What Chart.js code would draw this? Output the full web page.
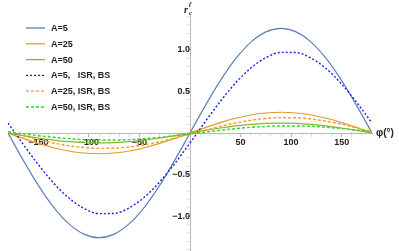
<!DOCTYPE html>
<html>
<head>
<meta charset="utf-8">
<script src="https://cdn.jsdelivr.net/npm/chart.js@4.4.1/dist/chart.umd.min.js"></script>
<style>
  html, body { margin: 0; padding: 0; background: #fff; }
  #wrap { width: 399px; height: 251px; }
</style>
</head>
<body>
<div id="wrap"><canvas id="plot"></canvas></div>
<script>
// phi in degrees, one point every 15 deg
const phi = [-180, -165, -150, -135, -120, -105, -90, -75, -60, -45, -30, -15, 0,
             15, 30, 45, 60, 75, 90, 105, 120, 135, 150, 165, 180];

const a5 = [0, -0.326, -0.63, -0.891, -1.091, -1.217, -1.26, -1.217, -1.091, -0.891, -0.63, -0.326, 0,
            0.326, 0.63, 0.891, 1.091, 1.217, 1.26, 1.217, 1.091, 0.891, 0.63, 0.326, 0];
const a25 = [0, -0.065, -0.125, -0.177, -0.217, -0.241, -0.25, -0.241, -0.217, -0.177, -0.125, -0.065, 0,
             0.065, 0.125, 0.177, 0.217, 0.241, 0.25, 0.241, 0.217, 0.177, 0.125, 0.065, 0];
const a50 = [0, -0.031, -0.06, -0.085, -0.104, -0.116, -0.12, -0.116, -0.104, -0.085, -0.06, -0.031, 0,
             0.031, 0.06, 0.085, 0.104, 0.116, 0.12, 0.116, 0.104, 0.085, 0.06, 0.031, 0];
const a5isr = [0.12, -0.135, -0.381, -0.601, -0.78, -0.906, -0.97, -0.968, -0.9, -0.771, -0.589, -0.367, -0.12,
               0.135, 0.381, 0.601, 0.78, 0.906, 0.97, 0.968, 0.9, 0.771, 0.589, 0.367, 0.12];
const a25isr = [0.015, -0.033, -0.08, -0.12, -0.153, -0.175, -0.185, -0.183, -0.168, -0.141, -0.106, -0.062, -0.015,
                0.033, 0.08, 0.12, 0.153, 0.175, 0.185, 0.183, 0.168, 0.141, 0.106, 0.062, 0.015];
const a50isr = [0.012, -0.01, -0.032, -0.052, -0.068, -0.079, -0.085, -0.085, -0.08, -0.069, -0.053, -0.034, -0.012,
                0.01, 0.032, 0.052, 0.068, 0.079, 0.085, 0.085, 0.08, 0.069, 0.053, 0.034, 0.012];

const labels = ["A=5", "A=25", "A=50", "A=5,   ISR, BS", "A=25, ISR, BS", "A=50, ISR, BS"];
const series = [a5, a25, a50, a5isr, a25isr, a50isr];
const colors = ["#5e81b5", "#e19c24", "#8fb032", "#1a1aff", "#ff9a26", "#22e022"];
const dashes = [[], [], [], [2, 2], [3, 2], [3, 2]];

const axisColor = "#b8b8b8";
const minorColor = "#dedede";
const tickFont = { family: "Liberation Sans", size: 9, weight: "bold" };

function pts(ys) {
    return phi.map((p, i) => ({ x: p, y: ys[i] }));
}

const datasets = series.map((ys, i) => ({
    label: labels[i],
    data: pts(ys),
    borderColor: colors[i],
    borderWidth: i < 3 ? 1.2 : 1.4,
    borderDash: dashes[i],
    pointRadius: 0,
    tension: 0.4,
    cubicInterpolationMode: "monotone",
    fill: false,
    order: 6 - i,
}));

const extras = {
    id: "extras",
    afterDraw(chart) {
        const ctx = chart.ctx;
        const xs = chart.scales.x, ys = chart.scales.y;
        ctx.save();
        // legend
        chart.data.datasets.forEach((ds, i) => {
            const y = 28 + i * 15.8;
            ctx.strokeStyle = ds.borderColor;
            ctx.lineWidth = 1.3;
            ctx.setLineDash(ds.borderDash);
            ctx.beginPath();
            ctx.moveTo(26, y);
            ctx.lineTo(45, y);
            ctx.stroke();
            ctx.setLineDash([]);
            ctx.fillStyle = "#222";
            ctx.font = "bold 9px 'Liberation Sans'";
            ctx.textBaseline = "middle";
            ctx.textAlign = "left";
            ctx.fillText(ds.label, 51, y + 0.5);
        });
        // axis names
        const x0 = xs.getPixelForValue(0), y0 = ys.getPixelForValue(0);
        ctx.fillStyle = "#222";
        ctx.font = "bold 10px 'Liberation Sans'";
        ctx.textBaseline = "middle";
        ctx.fillText("\u03c6(\u00b0)", xs.right + 4, y0);
        ctx.font = "italic bold 10px 'Liberation Serif'";
        ctx.textAlign = "left";
        ctx.fillText("r", x0 - 6, 10);
        ctx.font = "italic bold 7px 'Liberation Serif'";
        ctx.fillText("f", x0 - 1, 4);
        ctx.fillText("c", x0 - 1, 13);
        ctx.restore();
    }
};

const isMajorX = (v) => Math.round(v) % 50 === 0;
const isMajorY = (v) => Math.round(v * 10) % 5 === 0;

new Chart(document.getElementById("plot"), {
    type: "line",
    data: { datasets: datasets },
    options: {
        responsive: true,
        maintainAspectRatio: false,
        animation: false,
        layout: { padding: { left: 8, right: 27, top: 15, bottom: 0 } },
        plugins: { legend: { display: false }, tooltip: { enabled: false } },
        scales: {
            x: {
                type: "linear",
                position: { y: 0 },
                min: -180,
                max: 180,
                afterFit(scale) {
                    scale.height = 0;
                    scale.paddingLeft = 0;
                    scale.paddingRight = 0;
                },
                border: { color: axisColor, width: 1 },
                grid: {
                    drawOnChartArea: false,
                    drawTicks: true,
                    tickLength: 3,
                    color: (c) => (c.tick && isMajorX(c.tick.value) ? axisColor : minorColor),
                },
                ticks: {
                    stepSize: 10,
                    includeBounds: false,
                    autoSkip: false,
                    padding: 1,
                    color: "#222",
                    font: tickFont,
                    maxRotation: 0,
                    callback: (v) => (v === 0 || !isMajorX(v) ? "" : String(v).replace("-", "\u2212")),
                },
            },
            y: {
                type: "linear",
                position: { x: 0 },
                min: -1.42,
                max: 1.42,
                afterFit(scale) {
                    scale.width = 0;
                    scale.paddingTop = 0;
                    scale.paddingBottom = 0;
                },
                border: { color: axisColor, width: 1 },
                grid: {
                    drawOnChartArea: false,
                    drawTicks: true,
                    tickLength: 3,
                    color: (c) => (c.tick && isMajorY(c.tick.value) ? axisColor : minorColor),
                },
                ticks: {
                    stepSize: 0.1,
                    includeBounds: false,
                    autoSkip: false,
                    padding: 2,
                    color: "#222",
                    font: tickFont,
                    callback: (v) => (Math.abs(v) < 1e-9 || !isMajorY(v) ? "" : v.toFixed(1).replace("-", "\u2212")),
                },
            },
        },
    },
    plugins: [extras],
});
</script>
</body>
</html>
